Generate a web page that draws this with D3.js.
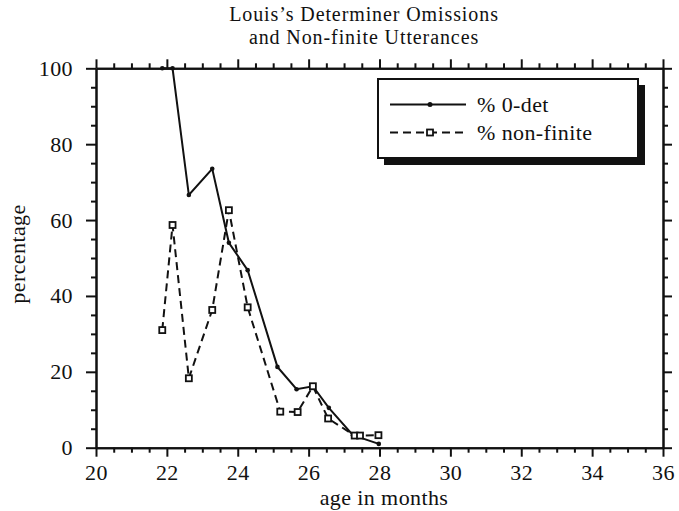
<!DOCTYPE html>
<html><head><meta charset="utf-8">
<script src="https://cdn.jsdelivr.net/npm/d3@7"></script>
<style>
body{margin:0;background:#fff;}
svg{display:block;font-family:"Liberation Serif","Times New Roman",serif;}
text{letter-spacing:0.4px;}
</style></head>
<body>
<svg id="chart" width="679" height="511"></svg>
<script>
// ---- data ----
const titleLines = ["Louis\u2019s Determiner Omissions", "and Non-finite Utterances"];
const xTicks = [20, 22, 24, 26, 28, 30, 32, 34, 36];
const yTicks = [0, 20, 40, 60, 80, 100];
const detAges = [21.87, 22.16, 22.62, 23.28, 23.75, 24.28, 25.12, 25.66, 26.12, 26.57, 27.25, 27.98];
const detValues = [100, 100, 66.6, 73.5, 54.0, 46.8, 21.3, 15.4, 16.2, 10.5, 3.3, 1.0];
const nfAges = [21.87, 22.16, 22.62, 23.28, 23.75, 24.28, 25.2, 25.69, 26.12, 26.55, 27.3, 27.45, 27.97];
const nfValues = [31.0, 58.7, 18.3, 36.3, 62.6, 37.0, 9.5, 9.4, 16.2, 7.7, 3.2, 3.2, 3.3];
const seriesNames = ["% 0-det", "% non-finite"];

const svg = d3.select("#chart");
const L = 96, R = 663, T = 68.3, B = 447.7;
const x = d3.scaleLinear().domain([20, 36]).range([L, R]);
const y = d3.scaleLinear().domain([0, 100]).range([B, T]);
const xMinor = d3.range(20, 36.01, 0.5).filter(v => !xTicks.includes(v));
const yMinor = d3.range(0, 100.01, 5).filter(v => !yTicks.includes(v));
const fs = 22;

function styleAxis(g) {
  g.selectAll("path.domain").attr("stroke", "#111").attr("stroke-width", 2);
  g.selectAll(".tick line").attr("stroke", "#111").attr("stroke-width", 2);
  g.selectAll(".tick text").attr("fill", "#111").style("font-size", fs + "px")
    .style("font-family", '"Liberation Serif","Times New Roman",serif');
}

// bottom
svg.append("g").attr("transform", `translate(0,${B})`)
  .call(d3.axisBottom(x).tickValues(xTicks).tickSize(9).tickSizeOuter(0).tickPadding(8).tickFormat(d3.format("d")))
  .call(styleAxis);
svg.append("g").attr("transform", `translate(0,${B})`)
  .call(d3.axisBottom(x).tickValues(xMinor).tickSize(5).tickSizeOuter(0).tickFormat(""))
  .call(styleAxis);
// top
svg.append("g").attr("transform", `translate(0,${T})`)
  .call(d3.axisTop(x).tickValues(xTicks).tickSize(9).tickSizeOuter(0).tickFormat(""))
  .call(styleAxis);
svg.append("g").attr("transform", `translate(0,${T})`)
  .call(d3.axisTop(x).tickValues(xMinor).tickSize(5).tickSizeOuter(0).tickFormat(""))
  .call(styleAxis);
// left
svg.append("g").attr("transform", `translate(${L},0)`)
  .call(d3.axisLeft(y).tickValues(yTicks).tickSize(10).tickSizeOuter(0).tickPadding(13).tickFormat(d3.format("d")))
  .call(styleAxis);
svg.append("g").attr("transform", `translate(${L},0)`)
  .call(d3.axisLeft(y).tickValues(yMinor).tickSize(5).tickSizeOuter(0).tickFormat(""))
  .call(styleAxis);
// right
svg.append("g").attr("transform", `translate(${R},0)`)
  .call(d3.axisRight(y).tickValues(yTicks).tickSize(9).tickSizeOuter(0).tickFormat(""))
  .call(styleAxis);
svg.append("g").attr("transform", `translate(${R},0)`)
  .call(d3.axisRight(y).tickValues(yMinor).tickSize(5).tickSizeOuter(0).tickFormat(""))
  .call(styleAxis);

// title
const tfs = 20;
svg.append("text").attr("x", 364).attr("y", 21).attr("text-anchor", "middle")
  .style("font-size", tfs + "px").style("letter-spacing", "0.9px").attr("fill", "#111").text(titleLines[0]);
svg.append("text").attr("x", 364).attr("y", 44).attr("text-anchor", "middle")
  .style("font-size", tfs + "px").style("letter-spacing", "0.9px").attr("fill", "#111").text(titleLines[1]);
// axis titles
svg.append("text").attr("x", 384).attr("y", 505).attr("text-anchor", "middle")
  .style("font-size", fs + "px").attr("fill", "#111").text("age in months");
svg.append("text").attr("transform", "translate(25,254) rotate(-90)").attr("text-anchor", "middle")
  .style("font-size", fs + "px").attr("fill", "#111").text("percentage");

// series
const detData = detAges.map((a, i) => [a, detValues[i]]);
const nfData = nfAges.map((a, i) => [a, nfValues[i]]);
const line = d3.line().x(d => x(d[0])).y(d => y(d[1]));

svg.append("path").datum(nfData).attr("d", line).attr("fill", "none")
  .attr("stroke", "#111").attr("stroke-width", 2).attr("stroke-dasharray", "8,5");
svg.append("path").datum(detData).attr("d", line).attr("fill", "none")
  .attr("stroke", "#111").attr("stroke-width", 2);
svg.append("g").selectAll("circle").data(detData).join("circle")
  .attr("cx", d => x(d[0])).attr("cy", d => y(d[1])).attr("r", 2.3).attr("fill", "#111");
svg.append("g").selectAll("rect").data(nfData).join("rect")
  .attr("x", d => x(d[0]) - 3).attr("y", d => y(d[1]) - 3).attr("width", 6).attr("height", 6)
  .attr("fill", "#fff").attr("stroke", "#111").attr("stroke-width", 1.8);

// legend
const lg = svg.append("g");
lg.append("rect").attr("x", 384).attr("y", 85).attr("width", 261).attr("height", 80).attr("fill", "#111");
lg.append("rect").attr("x", 378).attr("y", 79).attr("width", 260).attr("height", 79)
  .attr("fill", "#fff").attr("stroke", "#111").attr("stroke-width", 2);
const ly = [104.5, 132.5];
lg.append("line").attr("x1", 390).attr("x2", 466).attr("y1", ly[0]).attr("y2", ly[0])
  .attr("stroke", "#111").attr("stroke-width", 2);
lg.append("circle").attr("cx", 430).attr("cy", ly[0]).attr("r", 2.5).attr("fill", "#111");
lg.append("line").attr("x1", 390).attr("x2", 466).attr("y1", ly[1]).attr("y2", ly[1])
  .attr("stroke", "#111").attr("stroke-width", 2).attr("stroke-dasharray", "8,5");
lg.append("rect").attr("x", 427).attr("y", ly[1] - 3).attr("width", 6).attr("height", 6)
  .attr("fill", "#fff").attr("stroke", "#111").attr("stroke-width", 1.8);
seriesNames.forEach((s, i) => {
  lg.append("text").attr("x", 477).attr("y", ly[i] + 7).style("font-size", fs + "px")
    .attr("fill", "#111").text(s);
});
</script>
</body></html>
